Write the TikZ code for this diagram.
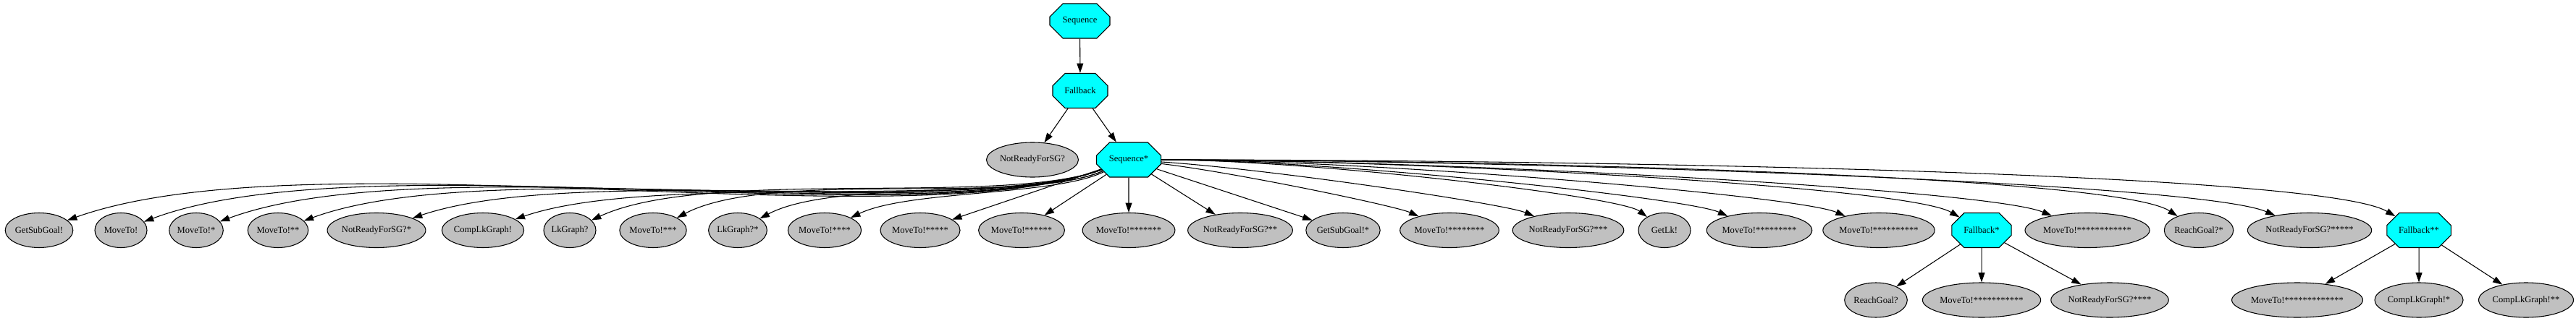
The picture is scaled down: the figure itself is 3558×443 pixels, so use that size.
\documentclass[tikz,border=0pt]{standalone}
\usepackage{fontspec}
\setmainfont{Liberation Serif}
\usetikzlibrary{shapes.misc,shapes.geometric,arrows.meta}
\definecolor{ctrlfill}{RGB}{0,255,255}
\definecolor{leaffill}{RGB}{192,192,192}
\begin{document}
\begin{tikzpicture}[x=0.75pt, y=0.75pt,
  every node/.style={font=\fontsize{9.4}{11}\selectfont},
  ctrl/.style={chamfered rectangle, chamfered rectangle xsep=18pt,
    chamfered rectangle ysep=9.5pt, draw, fill=ctrlfill, line width=0.8pt,
    minimum height=36pt, inner xsep=9pt, inner ysep=0pt},
  leaf/.style={ellipse, draw, fill=leaffill, line width=0.8pt,
    minimum width=54pt, minimum height=36pt, inner sep=0pt},
  >={Triangle[length=10pt,width=6.7pt]},
  every edge/.style={draw, line width=0.8pt}]
\useasboundingbox (0,-443) rectangle (3558,0);
% root and first fallback
\node[ctrl]  at (1491.5, -29) (seq) {Sequence};
\node[ctrl]  at (1492, -125.5) (fb) {Fallback};
\node[leaf]  at (1426, -221) (nr0) {NotReadyForSG?};
\node[ctrl]  at (1559, -221) (seqs) {Sequence*};
% children of Sequence*
\node[leaf]  at (54, -318.5) (gsg) {GetSubGoal!};
\node[leaf]  at (167, -318.5) (mv0) {MoveTo!};
\node[leaf]  at (271, -318.5) (mv1) {MoveTo!*};
\node[leaf]  at (384, -318.5) (mv2) {MoveTo!**};
\node[leaf]  at (520, -318.5) (nr1) {NotReadyForSG?*};
\node[leaf]  at (667, -318.5) (clg) {CompLkGraph!};
\node[leaf]  at (787, -318.5) (lkg) {LkGraph?};
\node[leaf]  at (902, -318.5) (mv3) {MoveTo!***};
\node[leaf]  at (1019, -318.5) (lkg1) {LkGraph?*};
\node[leaf]  at (1139, -318.5) (mv4) {MoveTo!****};
\node[leaf]  at (1271, -318.5) (mv5) {MoveTo!*****};
\node[leaf]  at (1411, -318.5) (mv6) {MoveTo!******};
\node[leaf]  at (1559, -318.5) (mv7) {MoveTo!*******};
\node[leaf]  at (1713, -318.5) (nr2) {NotReadyForSG?**};
\node[leaf]  at (1855, -318.5) (gsg1) {GetSubGoal!*};
\node[leaf]  at (2002, -318.5) (mv8) {MoveTo!********};
\node[leaf]  at (2166, -318.5) (nr3) {NotReadyForSG?***};
\node[leaf]  at (2299, -318.5) (glk) {GetLk!};
\node[leaf]  at (2430, -318.5) (mv9) {MoveTo!*********};
\node[leaf]  at (2595, -318.5) (mv10) {MoveTo!**********};
\node[ctrl]  at (2737, -318.5) (fb1) {Fallback*};
\node[leaf]  at (2883, -318.5) (mv12) {MoveTo!************};
\node[leaf]  at (3037, -318.5) (rg1) {ReachGoal?*};
\node[leaf]  at (3190, -318.5) (nr5) {NotReadyForSG?*****};
\node[ctrl]  at (3341, -318.5) (fb2) {Fallback**};
% children of the two lower fallbacks
\node[leaf]  at (2591, -415) (rg) {ReachGoal?};
\node[leaf]  at (2737, -415) (mv11) {MoveTo!***********};
\node[leaf]  at (2914, -415) (nr4) {NotReadyForSG?****};
\node[leaf]  at (3173, -415) (mv13) {MoveTo!*************};
\node[leaf]  at (3341, -415) (clg1) {CompLkGraph!*};
\node[leaf]  at (3489, -415) (clg2) {CompLkGraph!**};
\path[->]   (seq) edge (fb)
            (fb) edge (nr0)
            (fb) edge (seqs)
            (fb1) edge (rg)
            (fb1) edge (mv11)
            (fb1) edge (nr4)
            (fb2) edge (mv13)
            (fb2) edge (clg1)
            (fb2) edge (clg2);
% straight middle
\path[->]   (seqs) edge (mv5)
            (seqs) edge (mv6)
            (seqs) edge (mv7)
            (seqs) edge (nr2)
            (seqs) edge (gsg1);
% left fan
\draw[->, line width=0.8pt] (seqs) .. controls (1246,-335) and (429,-185) .. (gsg);
\draw[->, line width=0.8pt] (seqs) .. controls (1266,-328) and (506,-192) .. (mv0);
\draw[->, line width=0.8pt] (seqs) .. controls (1286,-321) and (588,-201) .. (mv1);
\draw[->, line width=0.8pt] (seqs) .. controls (1307,-313) and (677,-211) .. (mv2);
\draw[->, line width=0.8pt] (seqs) .. controls (1337,-302) and (797,-225) .. (nr1);
\draw[->, line width=0.8pt] (seqs) .. controls (1364,-292) and (905,-237) .. (clg);
\draw[->, line width=0.8pt] (seqs) .. controls (1382,-286) and (975,-231) .. (lkg);
\draw[->, line width=0.8pt] (seqs) .. controls (1410,-286) and (1065,-233) .. (mv3);
\draw[->, line width=0.8pt] (seqs) .. controls (1430,-277) and (1153,-247) .. (lkg1);
\draw[->, line width=0.8pt] (seqs) .. controls (1456,-271) and (1254,-263) .. (mv4);
% right fan
\draw[->, line width=0.8pt] (seqs) .. controls (1708,-239) and (1928,-285) .. (mv8);
\draw[->, line width=0.8pt] (seqs) .. controls (1756,-234) and (2078,-282) .. (nr3);
\draw[->, line width=0.8pt] (seqs) .. controls (1806,-221) and (2237,-271) .. (glk);
\draw[->, line width=0.8pt] (seqs) .. controls (1838,-221) and (2331,-274) .. (mv9);
\draw[->, line width=0.8pt] (seqs) .. controls (1886,-221) and (2481,-270) .. (mv10);
\draw[->, line width=0.8pt] (seqs) .. controls (1934,-221) and (2633,-257) .. (fb1);
\draw[->, line width=0.8pt] (seqs) .. controls (1970,-221) and (2743,-261) .. (mv12);
\draw[->, line width=0.8pt] (seqs) .. controls (2024,-221) and (2920,-241) .. (rg1);
\draw[->, line width=0.8pt] (seqs) .. controls (2063,-221) and (3033,-251) .. (nr5);
\draw[->, line width=0.8pt] (seqs) .. controls (2115,-221) and (3202,-236) .. (fb2);
\end{tikzpicture}
\end{document}
